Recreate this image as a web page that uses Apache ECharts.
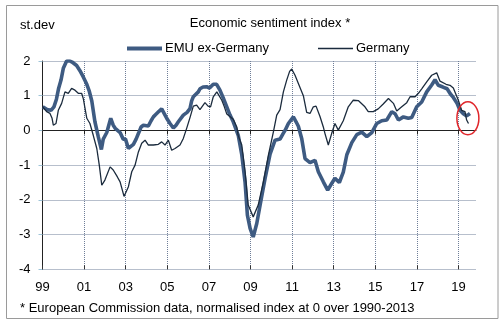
<!DOCTYPE html>
<html><head><meta charset="utf-8">
<script src="https://cdn.jsdelivr.net/npm/echarts@6/dist/echarts.min.js"></script>
<style>html,body{margin:0;padding:0;background:#fff}#c{width:504px;height:322px}</style>
</head><body><div id="c"></div>
<script>
var tickLabels = ['99','01','03','05','07','09','11','13','15','17','19'];
var emuDates = [1999.01,1999.22,1999.41,1999.55,1999.67,1999.77,1999.89,2000.0,2000.16,2000.32,2000.42,2000.51,2000.64,2000.73,2000.80,2000.96,2001.13,2001.24,2001.37,2001.52,2001.68,2001.83,2001.92,2002.09,2002.28,2002.40,2002.51,2002.58,2002.73,2002.88,2002.99,2003.13,2003.21,2003.37,2003.50,2003.61,2003.74,2003.85,2004.09,2004.22,2004.33,2004.43,2004.60,2004.73,2004.84,2004.97,2005.13,2005.29,2005.42,2005.53,2005.77,2005.95,2006.09,2006.17,2006.25,2006.49,2006.57,2006.72,2006.89,2007.03,2007.21,2007.37,2007.53,2007.68,2007.86,2008.01,2008.17,2008.41,2008.58,2008.74,2008.85,2008.98,2009.13,2009.30,2009.46,2009.70,2009.94,2010.18,2010.42,2010.56,2010.66,2010.82,2011.06,2011.19,2011.30,2011.46,2011.62,2011.86,2012.10,2012.26,2012.50,2012.71,2012.90,2013.06,2013.27,2013.46,2013.63,2013.87,2014.11,2014.35,2014.59,2014.83,2015.07,2015.31,2015.55,2015.79,2015.95,2016.11,2016.35,2016.59,2016.75,2016.99,2017.23,2017.47,2017.71,2017.87,2018.03,2018.25,2018.45,2018.61,2018.75,2018.93,2019.07,2019.23,2019.39,2019.55];
var emuValues = [0.68,0.6,0.58,0.68,0.9,1.2,1.45,1.79,2.0,2.0,1.97,1.95,1.87,1.82,1.72,1.54,1.33,1.15,0.85,0.25,-0.18,-0.55,-0.25,-0.06,0.35,0.15,0.05,0.02,-0.06,-0.25,-0.25,-0.52,-0.55,-0.4,-0.25,-0.09,0.1,0.15,0.13,0.28,0.39,0.45,0.55,0.62,0.5,0.35,0.2,0.07,0.15,0.25,0.44,0.52,0.63,0.85,0.97,1.11,1.2,1.25,1.26,1.22,1.33,1.33,1.16,0.95,0.68,0.45,0.25,-0.14,-0.7,-1.5,-2.44,-2.82,-3.07,-2.68,-2.15,-1.38,-0.68,-0.28,-0.25,-0.1,0.0,0.2,0.39,0.25,0.12,-0.23,-0.81,-0.93,-0.86,-1.19,-1.48,-1.72,-1.53,-1.38,-1.5,-1.2,-0.7,-0.35,-0.12,-0.05,-0.18,-0.06,0.2,0.28,0.3,0.54,0.48,0.3,0.39,0.35,0.37,0.68,0.82,1.11,1.31,1.46,1.3,1.25,1.2,1.05,0.95,0.78,0.58,0.48,0.42,0.49];
var deDates = [1999.01,1999.20,1999.36,1999.46,1999.52,1999.65,1999.76,1999.92,2000.08,2000.24,2000.40,2000.56,2000.72,2000.88,2000.96,2001.13,2001.28,2001.44,2001.61,2001.73,2001.85,2002.00,2002.25,2002.40,2002.60,2002.73,2002.92,2003.13,2003.29,2003.45,2003.61,2003.77,2003.93,2004.09,2004.33,2004.57,2004.73,2004.89,2005.05,2005.21,2005.37,2005.61,2005.77,2005.93,2006.09,2006.25,2006.41,2006.57,2006.81,2006.96,2007.08,2007.21,2007.38,2007.62,2007.73,2007.86,2008.17,2008.34,2008.41,2008.58,2008.74,2008.89,2009.13,2009.37,2009.62,2009.86,2010.10,2010.26,2010.42,2010.58,2010.74,2010.88,2010.98,2011.14,2011.30,2011.38,2011.54,2011.70,2011.86,2012.02,2012.15,2012.34,2012.50,2012.58,2012.74,2012.90,2013.06,2013.22,2013.46,2013.70,2013.94,2014.18,2014.26,2014.50,2014.66,2014.90,2015.14,2015.38,2015.63,2015.87,2016.03,2016.27,2016.51,2016.67,2016.91,2017.07,2017.23,2017.47,2017.71,2017.95,2018.11,2018.40,2018.59,2018.75,2018.99,2019.15,2019.31,2019.39,2019.48];
var deValues = [0.68,0.54,0.49,0.35,0.15,0.2,0.58,0.78,1.11,1.07,1.21,1.16,1.07,1.07,0.92,0.35,0.2,-0.14,-0.52,-1.0,-1.58,-1.43,-1.05,-1.14,-1.34,-1.48,-1.9,-1.62,-1.19,-1.0,-0.62,-0.37,-0.28,-0.42,-0.42,-0.4,-0.33,-0.42,-0.28,-0.57,-0.52,-0.42,-0.23,0.06,0.37,0.7,0.73,0.6,0.8,0.7,0.68,0.97,1.11,0.87,0.7,0.47,0.32,0.1,-0.15,-0.42,-1.19,-2.15,-2.49,-2.15,-1.48,-0.71,-0.04,0.44,0.6,1.11,1.45,1.7,1.77,1.59,1.35,1.31,1.0,0.52,0.49,0.68,0.7,0.4,0.1,-0.09,-0.42,-0.09,0.2,0.01,0.28,0.68,0.87,0.86,0.82,0.68,0.54,0.54,0.62,0.76,0.92,0.78,0.56,0.68,0.8,0.97,0.97,1.07,1.2,1.4,1.59,1.66,1.42,1.33,1.3,1.22,0.87,0.58,0.54,0.3,0.2];

var startYear = 1999;
function pairs(d, v){ return d.map(function(t,i){ return [t - startYear, v[i]]; }); }
var tickPos = tickLabels.map(function(_, i){ return i * 2; });

var FONT = 'Liberation Sans, Arial, sans-serif';
var gridColor = '#6f7e98';
var chart = echarts.init(document.getElementById('c'), null, {renderer:'canvas'});
function xLabel(v){
  var k = v / 2;
  if (Math.abs(k - Math.round(k)) > 1e-6) return '';
  return tickLabels[Math.round(k)] || '';
}
var option = {
  animation: false,
  textStyle: {fontFamily: FONT},
  grid: {left: 42.5, top: 61, width: 433.5, height: 208.3, containLabel: false},
  legend: [
    {left: 122, top: 37, itemWidth: 35, itemHeight: 4, icon: 'rect', data: ['EMU ex-Germany'],
     textStyle: {fontFamily: FONT, fontSize: 13, color: '#000', padding: [0,0,0,-2]}},
    {left: 313, top: 37, itemWidth: 35, itemHeight: 1.5, icon: 'rect', data: ['Germany'],
     textStyle: {fontFamily: FONT, fontSize: 13, color: '#000', padding: [0,0,0,-2]}}
  ],
  xAxis: [
    {type: 'value', position: 'bottom', min: 0, max: 20.84, interval: 2,
     axisLine: {onZero: false, show: false},
     axisTick: {show: true, inside: true, length: 4, lineStyle: {color: '#333'}, customValues: tickPos},
     axisLabel: {margin: 12, fontFamily: FONT, fontSize: 13, color: '#000', customValues: tickPos, formatter: xLabel},
     splitLine: {show: true, lineStyle: {color: gridColor, type: [1,1], width: 1}}},
    {type: 'value', position: 'bottom', min: 0, max: 20.84, interval: 2,
     axisLine: {onZero: true, show: true, lineStyle: {color: '#222', width: 1}},
     axisTick: {show: true, inside: false, length: 4, lineStyle: {color: '#222'}, customValues: tickPos},
     axisLabel: {show: false}, splitLine: {show: false}}
  ],
  yAxis: {type: 'value', min: -4, max: 2, interval: 1,
    axisLine: {show: true, lineStyle: {color: '#222', width: 1}},
    axisTick: {show: true, length: 4, lineStyle: {color: '#9fc4d8'}},
    axisLabel: {margin: 12, fontFamily: FONT, fontSize: 13, color: '#000'},
    splitLine: {show: true, lineStyle: {color: gridColor, type: [1,1], width: 1}}},
  series: [
    {name: 'EMU ex-Germany', type: 'line', xAxisIndex: 0, data: pairs(emuDates, emuValues),
     showSymbol: false, symbol: 'none', lineStyle: {color: '#3e5b82', width: 3.6}, itemStyle: {color: '#3e5b82'}, z: 3},
    {name: 'Germany', type: 'line', xAxisIndex: 0, data: pairs(deDates, deValues),
     showSymbol: false, symbol: 'none', lineStyle: {color: '#1b2b3d', width: 1.3}, itemStyle: {color: '#1b2b3d'}, z: 4}
  ],
  graphic: [
    {type: 'rect', shape: {x: 6.5, y: 5.5, width: 491.5, height: 313}, style: {fill: null, stroke: '#9a9a9a', lineWidth: 1}, silent: true},
    {type: 'text', left: 20, top: 19, style: {text: 'st.dev', font: '13px ' + FONT, fill: '#000'}},
    {type: 'text', x: 270, y: 17, style: {text: 'Economic sentiment index *', font: '13px ' + FONT, fill: '#000', textAlign: 'center'}},
    {type: 'text', left: 20, top: 302, style: {text: '* European Commission data, normalised index at 0 over 1990-2013', font: '13px ' + FONT, fill: '#000'}}
  ]
};
chart.setOption(option);
var c1 = chart.convertToPixel({xAxisIndex: 0, yAxisIndex: 0}, [2019.45 - startYear, 0.35]);
chart.setOption({graphic: option.graphic.concat([
  {type: 'ellipse', shape: {cx: c1[0], cy: c1[1], rx: 11, ry: 16.5}, style: {fill: null, stroke: '#e0262b', lineWidth: 1.5}, z: 10}
])});
</script></body></html>
